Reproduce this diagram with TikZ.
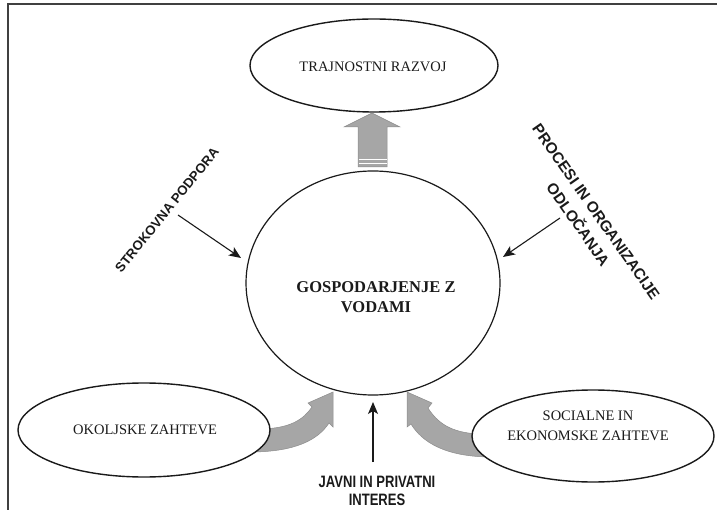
\documentclass[tikz,border=0pt]{standalone}
\usepackage{fontspec}
\setmainfont{Liberation Serif}
\setsansfont{Liberation Sans}
\usetikzlibrary{arrows.meta,shapes.geometric}
\definecolor{arrgray}{HTML}{A6A6A6}
\definecolor{inkc}{HTML}{1A1A1A}
\tikzset{
  oval/.style={draw=inkc,line width=1.4pt,ellipse,inner sep=0pt,fill=white},
  thinarrow/.style={draw=inkc,line width=1.1pt,-{Stealth[length=12pt,width=10pt,inset=3pt]}},
  grayarrow/.style={fill=arrgray,draw=gray!90,line width=0.5pt},
  serlabel/.style={font=\fontsize{14.5}{18}\selectfont,align=center,text=inkc},
  sanslabel/.style={font=\fontsize{13.3}{18}\selectfont\sffamily\bfseries,align=center,text=inkc},
}
\begin{document}
\begin{tikzpicture}[x=1pt,y=-1pt]
\useasboundingbox (0,0) rectangle (717,510);
% partial frame
\draw[line width=1.6pt,black!75] (8,510) -- (8,4) -- (717,4);

% gray curved arrows (drawn below ellipses)
\fill[grayarrow] (262,429) .. controls (290,428) and (303,420) .. (312,407)
  -- (308,403) -- (333,392) -- (333,427) -- (329,423)
  .. controls (318,440) and (295,452) .. (250,452) -- cycle;
\fill[grayarrow] (480,434) .. controls (450,433) and (437,422) .. (428,408)
  -- (432,403) -- (407,392) -- (407,427) -- (411,424)
  .. controls (422,442) and (445,457) .. (492,457) -- cycle;

% ellipses
\node[oval,minimum width=248pt,minimum height=93pt] (top) at (374,65.5) {};
\node[oval,line width=1.2pt,minimum width=254pt,minimum height=224pt] (main) at (373,283) {};
\node[oval,minimum width=252pt,minimum height=94pt] (left) at (144,430) {};
\node[oval,minimum width=242pt,minimum height=92pt] (right) at (593,436) {};

% up block arrow
\fill[grayarrow] (358,167) -- (358,127) -- (344,127) -- (372,113) -- (400,127) -- (387,127) -- (387,167) -- cycle;
\draw[white,line width=0.8pt] (358.5,159) -- (386.5,159) (358.5,163) -- (386.5,163);

% texts
\node[serlabel] (toptext) at (373,67) {TRAJNOSTNI RAZVOJ};
\node[serlabel,font=\fontsize{16.5}{20}\selectfont\bfseries] (maintext) at (376,297) {GOSPODARJENJE Z\\VODAMI};
\node[serlabel] (lefttext) at (145,430) {OKOLJSKE ZAHTEVE};
\node[serlabel,font=\fontsize{14.5}{20.5}\selectfont] (righttext) at (588,426) {SOCIALNE IN\\EKONOMSKE ZAHTEVE};

\node[sanslabel,rotate=51] (strok) at (167,210) {STROKOVNA PODPORA};
\node[sanslabel,font=\fontsize{15.4}{22}\selectfont\sffamily\bfseries,rotate=-55] (proc) at (587,218) {PROCESI IN ORGANIZACIJE\\ODLOČANJA};
\node[font=\fontsize{16.5}{17.5}\selectfont\sffamily\bfseries,xscale=0.79,align=center,text=inkc] (javni) at (377,491) {JAVNI IN PRIVATNI\\INTERES};

% thin arrows
\coordinate (s1) at (178,215);
\coordinate (s2) at (241,258);
\coordinate (p1) at (560,218);
\coordinate (p2) at (503,257);
\coordinate (j1) at (373,462);
\coordinate (j2) at (373,402);
\draw[thinarrow] (s1) -- (s2);
\draw[thinarrow] (p1) -- (p2);
\draw[thinarrow] (j1) -- (j2);
\end{tikzpicture}
\end{document}
